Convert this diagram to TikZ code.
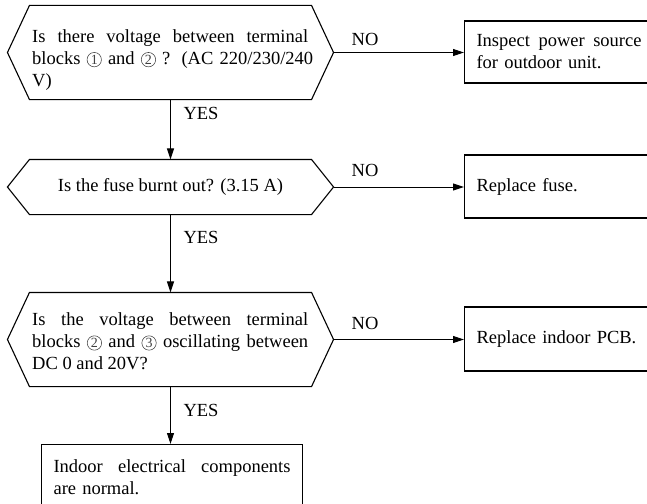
\documentclass[tikz,border=0pt]{standalone}
\usepackage{fontspec}
\setmainfont{Liberation Serif}
\usetikzlibrary{arrows.meta}
\newcommand\cnum[1]{\tikz[baseline=0pt]{\draw[line width=0.55pt, black!75] (0pt,4.8pt) circle[radius=7.2pt]; \path (0pt,4.8pt) node[anchor=center, inner sep=0pt, outer sep=0pt, text=black!75, font=\fontsize{14}{14}\selectfont] (cn#1) {#1};}}
\newcommand\jline[2]{\hbox to #1{\spaceskip=0.25em plus 1fil\relax #2}}
\newcommand\hexframe[2]{\draw (#1.west) -- ([xshift=#2]#1.north west) -- ([xshift=-#2]#1.north east) -- (#1.east) -- ([xshift=-#2]#1.south east) -- ([xshift=#2]#1.south west) -- cycle;}
\begin{document}
\begin{tikzpicture}[x=1pt,y=-1pt,
  font=\fontsize{18.5}{22}\selectfont, line width=1.1pt,
  hexbox/.style={minimum width=325pt, inner sep=0pt},
  hextext/.style={anchor=west, inner sep=0pt, align=left},
  rbox/.style={draw, inner xsep=12pt, inner ysep=0pt, align=left, anchor=west},
  arr/.style={line width=1pt, -{Triangle[length=11pt,width=7pt]}},
  lbl/.style={inner sep=0pt}]
\useasboundingbox (0,0) rectangle (647,503);
% decision nodes (frames) and their texts
\node[hexbox, minimum height=93pt] (h1) at (170.5,52.5) {};
\hexframe{h1}{22pt}
\node[hextext] (t1) at (32,60)
  {\jline{276pt}{Is there voltage between terminal}\\
   \jline{281pt}{blocks \cnum{1} and \cnum{2} ? (AC 220/230/240}\\ V)};
\node[hexbox, minimum height=54pt, align=center] (h2) at (170.5,187)
  {Is the fuse burnt out? (3.15 A)};
\hexframe{h2}{22pt}
\node[hexbox, minimum height=93pt] (h3) at (170.5,339.5) {};
\hexframe{h3}{22pt}
\node[hextext] (t3) at (32,341.5)
  {\jline{276pt}{Is the voltage between terminal}\\
   \jline{276pt}{blocks \cnum{2} and \cnum{3} oscillating between}\\
   DC 0 and 20V?};
% action boxes
\node[rbox, text width=165pt, minimum height=62pt] (b1) at (464,52)
  {\jline{165pt}{Inspect power source}\\ for outdoor unit.};
\node[rbox, text width=165pt, minimum height=63pt] (b2) at (464,186.5)
  {Replace fuse.};
\node[rbox, text width=165pt, minimum height=64pt] (b3) at (464,339)
  {Replace indoor PCB.};
\node[rbox, text width=237pt, inner ysep=15pt, anchor=north west] (b4) at (41,444)
  {\jline{237pt}{Indoor electrical components}\\ are normal.};
% connectors
\draw[arr] (h1.east) -- (h1.east -| b1.west);
\draw[arr] (h2.east) -- (h2.east -| b2.west);
\draw[arr] (h3.east) -- (h3.east -| b3.west);
\draw[arr] (h1.south) -- (h2.north);
\draw[arr] (h2.south) -- (h3.north);
\draw[arr] (h3.south) -- (h3.south |- b4.north);
% labels
\node[lbl] (no1) at (365,39) {NO};
\node[lbl] (no2) at (365,170) {NO};
\node[lbl] (no3) at (365,323) {NO};
\node[lbl, anchor=west] (yes1) at (183,113) {YES};
\node[lbl, anchor=west] (yes2) at (183,237) {YES};
\node[lbl, anchor=west] (yes3) at (183,410) {YES};
\end{tikzpicture}
\end{document}
